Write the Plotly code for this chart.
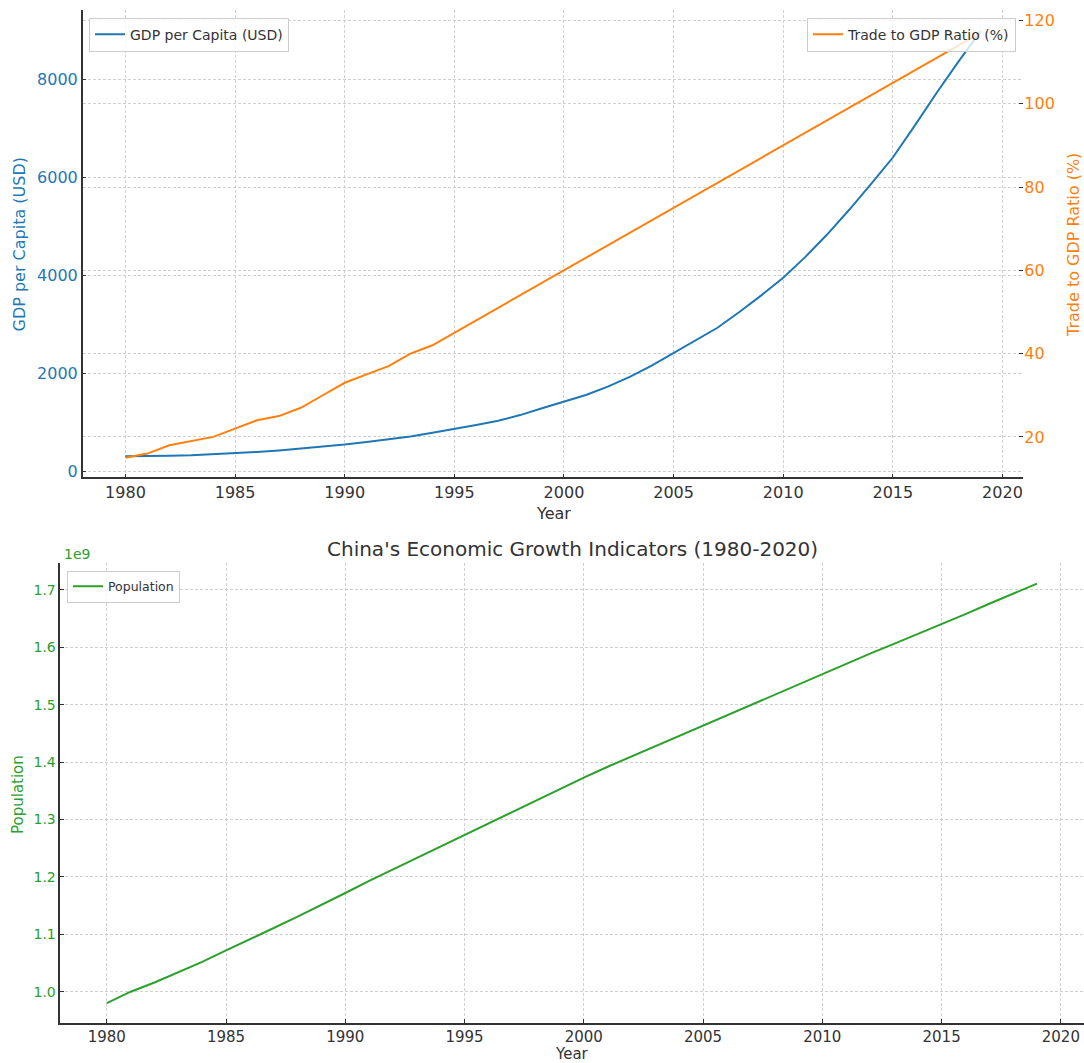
import plotly.graph_objects as go

# ---------------- data ----------------
years = list(range(1980, 2020))

gdp_per_capita = [310, 312, 320, 332, 350, 380, 400, 430, 465, 500,
                  550, 600, 655, 715, 790, 865, 950, 1035, 1150, 1290,
                  1430, 1560, 1730, 1930, 2160, 2420, 2670, 2930, 3250, 3590,
                  3950, 4370, 4830, 5330, 5860, 6400, 7050, 7720, 8360, 8970]

trade_to_gdp = [15, 16, 18, 19, 20, 22, 24, 25, 27, 30,
                33, 35, 37, 40, 42, 45, 48, 51, 54, 57,
                60, 63, 66, 69, 72, 75, 78, 81, 84, 87,
                90, 93, 96, 99, 102, 105, 108, 111, 114, 117]

population = [980e6, 1000e6, 1016e6, 1034e6, 1052e6, 1072e6, 1091e6, 1111e6, 1131e6, 1151e6,
              1172e6, 1193e6, 1213e6, 1233e6, 1253e6, 1274e6, 1294e6, 1314e6, 1334e6, 1353e6,
              1373e6, 1392e6, 1410e6, 1428e6, 1446e6, 1464e6, 1482e6, 1500e6, 1518e6, 1536e6,
              1554e6, 1571e6, 1589e6, 1606e6, 1623e6, 1641e6, 1658e6, 1676e6, 1694e6, 1711e6]

year_ticks = [1980, 1985, 1990, 1995, 2000, 2005, 2010, 2015, 2020]
gdp_ticks = [0, 2000, 4000, 6000, 8000]
trade_ticks = [20, 40, 60, 80, 100, 120]
pop_tickvals = [1.0e9, 1.1e9, 1.2e9, 1.3e9, 1.4e9, 1.5e9, 1.6e9, 1.7e9]
pop_ticktext = ["1.0", "1.1", "1.2", "1.3", "1.4", "1.5", "1.6", "1.7"]

# ---------------- style ----------------
W, H = 1084, 1063
BLUE, ORANGE, GREEN = "#1f77b4", "#ff7f0e", "#2ca02c"
TXT = "#333333"
GRID = "#d0d0d0"
FONT = "DejaVu Sans"


def px_x(p):
    return p / W


def px_y(p):
    return 1 - p / H


fig = go.Figure()
fig.add_trace(go.Scatter(x=years, y=gdp_per_capita, mode="lines",
                         line=dict(color=BLUE, width=2),
                         name="GDP per Capita (USD)", xaxis="x", yaxis="y",
                         legend="legend"))
fig.add_trace(go.Scatter(x=years, y=trade_to_gdp, mode="lines",
                         line=dict(color=ORANGE, width=2),
                         name="Trade to GDP Ratio (%)", xaxis="x", yaxis="y2",
                         legend="legend2"))
fig.add_trace(go.Scatter(x=years, y=population, mode="lines",
                         line=dict(color=GREEN, width=2),
                         name="Population", xaxis="x2", yaxis="y3",
                         legend="legend3"))

common = dict(showgrid=True, gridcolor=GRID, griddash="3px,2px", gridwidth=1,
              zeroline=False, automargin=False, ticks="inside", ticklen=4,
              tickcolor=TXT, tickwidth=1)

top_dom_x = [px_x(82.7), px_x(1023.3)]
top_dom_y = [px_y(477.3), px_y(10)]
bot_dom_x = [px_x(60.3), px_x(1083.5)]
bot_dom_y = [px_y(1022.7), px_y(563.3)]

legend_style = dict(bgcolor="rgba(255,255,255,0.8)", bordercolor="#cccccc",
                    borderwidth=1, tracegroupgap=0)

fig.update_layout(
    width=W, height=H,
    margin=dict(l=0, r=0, t=0, b=0),
    paper_bgcolor="white", plot_bgcolor="white",
    font=dict(family=FONT, color=TXT),
    xaxis=dict(domain=top_dom_x, anchor="y", range=[1978.05, 2020.95],
               tickvals=year_ticks, tickfont=dict(size=16, color=TXT),
               showline=True, linecolor=TXT, linewidth=1.5, **common),
    yaxis=dict(domain=top_dom_y, anchor="x", range=[-118, 9407],
               tickvals=gdp_ticks, tickfont=dict(size=16, color=BLUE),
               showline=True, linecolor=TXT, linewidth=1.5, **common),
    yaxis2=dict(overlaying="y", side="right", anchor="x", range=[10.3, 122.5],
                tickvals=trade_ticks, tickfont=dict(size=16, color=ORANGE),
                showline=False, **common),
    xaxis2=dict(domain=bot_dom_x, anchor="y3", range=[1978.05, 2020.95],
                tickvals=year_ticks, tickfont=dict(size=15, color=TXT),
                showline=True, linecolor=TXT, linewidth=1.5, **common),
    yaxis3=dict(domain=bot_dom_y, anchor="x2", range=[0.946e9, 1.7465e9],
                tickvals=pop_tickvals, ticktext=pop_ticktext,
                tickfont=dict(size=14, color=GREEN),
                showline=True, linecolor=TXT, linewidth=1.5, **common),
    legend=dict(x=px_x(89), y=px_y(17.7), xanchor="left", yanchor="top",
                font=dict(size=14, color=TXT), **legend_style),
    legend2=dict(x=px_x(1016), y=px_y(17.7), xanchor="right", yanchor="top",
                 font=dict(size=14, color=TXT), **legend_style),
    legend3=dict(x=px_x(67), y=px_y(570.7), xanchor="left", yanchor="top",
                 font=dict(size=12.5, color=TXT), **legend_style),
    showlegend=True,
)

annotations = [
    dict(text="GDP per Capita (USD)", x=px_x(19), y=px_y(244.5), textangle=-90,
         font=dict(size=16, color=BLUE)),
    dict(text="Trade to GDP Ratio (%)", x=px_x(1073), y=px_y(245), textangle=-90,
         font=dict(size=16, color=ORANGE)),
    dict(text="Year", x=px_x(553), y=px_y(513), font=dict(size=16, color=TXT)),
    dict(text="China's Economic Growth Indicators (1980-2020)", x=px_x(572),
         y=px_y(549), font=dict(size=20, color=TXT)),
    dict(text="1e9", x=px_x(62), y=px_y(554), xanchor="left",
         font=dict(size=14, color=GREEN)),
    dict(text="Population", x=px_x(18), y=px_y(795), textangle=-90,
         font=dict(size=15, color=GREEN)),
    dict(text="Year", x=px_x(572), y=px_y(1054), font=dict(size=15, color=TXT)),
]
for a in annotations:
    a.setdefault("xanchor", "center")
    a.setdefault("yanchor", "middle")
    a.update(xref="paper", yref="paper", showarrow=False)
fig.update_layout(annotations=annotations)

fig.write_html(
    "out.html",
    config={"displayModeBar": False},
    post_script="document.body.style.margin='0px';document.body.style.overflow='hidden';",
)
